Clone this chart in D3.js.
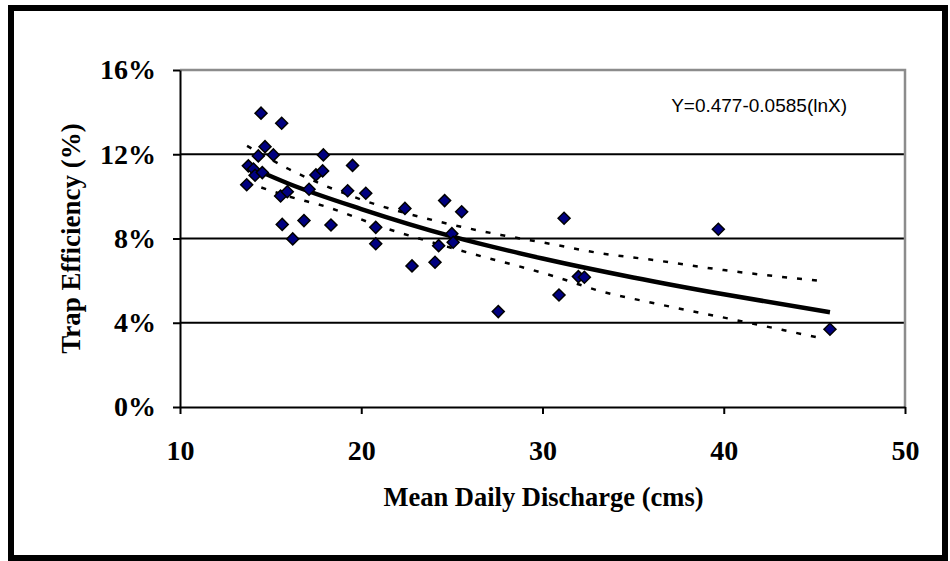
<!DOCTYPE html>
<html>
<head>
<meta charset="utf-8">
<script src="https://cdn.jsdelivr.net/npm/d3@7"></script>
<style>
  body { margin: 0; background: #fff; }
  .tick text { font-family: "Liberation Serif", "Times New Roman", serif; font-weight: bold; }
</style>
</head>
<body>
<div id="chart"></div>
<script>
var svgWidth = 950;
var svgHeight = 561;

// observations: mean daily discharge (cms) and trap efficiency (%)
var discharge = [13.68, 13.77, 14.05, 14.14, 14.32, 14.47, 14.54, 14.69, 15.15, 15.55,
  15.61, 15.64, 15.92, 16.22, 16.84, 17.12, 17.5, 17.87, 17.91, 18.33,
  19.25, 19.52, 20.25, 20.8, 20.8, 22.41, 22.8, 24.07, 24.27, 24.6,
  25.0, 25.07, 25.54, 27.56, 30.91, 31.19, 31.98, 32.31, 39.7, 45.86];
var efficiency = [10.55, 11.45, 11.3, 11.0, 11.92, 13.95, 11.13, 12.36, 11.97, 10.02,
  13.47, 8.67, 10.22, 7.98, 8.85, 10.34, 11.02, 11.21, 11.97, 8.64,
  10.27, 11.47, 10.15, 8.53, 7.75, 9.43, 6.7, 6.87, 7.66, 9.8,
  8.23, 7.82, 9.27, 4.53, 5.32, 8.96, 6.19, 6.16, 8.44, 3.69];

// fitted curve and its bands
var fitX = [13.7, 16, 20, 25, 30, 35, 40, 45.86];
var fitY = [11.45, 10.6, 9.4, 8.1, 7.05, 6.15, 5.35, 4.5];
var upperX = [13.7, 16, 20, 24.3, 27.7, 30.1, 33.2, 36.1, 40, 45.4];
var upperY = [12.4, 11.3, 9.85, 8.8, 8.17, 7.8, 7.3, 6.98, 6.5, 5.98];
var lowerX = [13.7, 16, 18.1, 21, 25.4, 30.7, 33.2, 36.2, 41.1, 45.4];
var lowerY = [10.65, 10.0, 9.5, 8.59, 7.45, 6.19, 5.5, 4.92, 4.05, 3.26];

var xTicks = [10, 20, 30, 40, 50];
var yTicks = [0, 4, 8, 12, 16];
var gridLines = [4, 8, 12];
var equation = "Y=0.477-0.0585(lnX)";

var margin = { top: 70, right: 45, bottom: 154, left: 180 };
var width = svgWidth - margin.left - margin.right;
var height = svgHeight - margin.top - margin.bottom;

var svg = d3.select("#chart")
  .append("svg")
  .attr("width", svgWidth)
  .attr("height", svgHeight);

// outer frame
svg.append("rect")
  .attr("x", 11).attr("y", 8)
  .attr("width", 934).attr("height", 550)
  .attr("fill", "white")
  .attr("stroke", "black")
  .attr("stroke-width", 6);

var chartGroup = svg.append("g")
  .attr("transform", `translate(${margin.left}, ${margin.top})`);

var xScale = d3.scaleLinear().domain([10, 50]).range([0, width]);
var yScale = d3.scaleLinear().domain([0, 16]).range([height, 0]);

// gridlines
chartGroup.selectAll(".grid")
  .data(gridLines)
  .enter()
  .append("line")
  .attr("x1", 0).attr("x2", width)
  .attr("y1", d => yScale(d)).attr("y2", d => yScale(d))
  .attr("stroke", "black")
  .attr("stroke-width", 2);

// grey top/right border of plot area
chartGroup.append("path")
  .attr("d", `M0,${yScale(16)}H${width}V${height}`)
  .attr("fill", "none")
  .attr("stroke", "#8c8c8c")
  .attr("stroke-width", 2.5);

var bottomAxis = d3.axisBottom(xScale)
  .tickValues(xTicks)
  .tickSizeInner(7).tickSizeOuter(0)
  .tickPadding(26)
  .tickFormat(d3.format("d"));
var leftAxis = d3.axisLeft(yScale)
  .tickValues(yTicks)
  .tickSizeInner(7).tickSizeOuter(0)
  .tickPadding(17)
  .tickFormat(d => d + "%");

var xAxisG = chartGroup.append("g")
  .attr("transform", `translate(0, ${height})`)
  .call(bottomAxis);
var yAxisG = chartGroup.append("g")
  .call(leftAxis);

[xAxisG, yAxisG].forEach(function(g) {
  g.selectAll("path, line").attr("stroke", "black").attr("stroke-width", 2);
  g.selectAll("text").attr("font-size", 28).attr("fill", "black");
});

// trend line and bands
var line = d3.line()
  .x(d => xScale(d[0]))
  .y(d => yScale(d[1]))
  .curve(d3.curveMonotoneX);

chartGroup.append("path")
  .datum(d3.zip(upperX, upperY))
  .attr("d", line)
  .attr("fill", "none")
  .attr("stroke", "black")
  .attr("stroke-width", 2.5)
  .attr("stroke-dasharray", "5,10");

chartGroup.append("path")
  .datum(d3.zip(lowerX, lowerY))
  .attr("d", line)
  .attr("fill", "none")
  .attr("stroke", "black")
  .attr("stroke-width", 2.5)
  .attr("stroke-dasharray", "5,10");

chartGroup.append("path")
  .datum(d3.zip(fitX, fitY))
  .attr("d", line)
  .attr("fill", "none")
  .attr("stroke", "black")
  .attr("stroke-width", 4.5);

//diamonds
var diamond = d3.symbol().type(d3.symbolSquare).size(72);
chartGroup.selectAll(".pt")
  .data(d3.zip(discharge, efficiency))
  .enter()
  .append("path")
  .attr("d", diamond)
  .attr("transform", d => `translate(${xScale(d[0])}, ${yScale(d[1])}) rotate(45)`)
  .attr("fill", "#000080")
  .attr("stroke", "black")
  .attr("stroke-width", 1.5);

// equation, right edge ~58px inside the plot border
chartGroup.append("text")
  .attr("x", width - 58)
  .attr("y", 42)
  .attr("text-anchor", "end")
  .attr("font-family", "Liberation Sans, Arial, sans-serif")
  .attr("font-size", 19)
  .text(equation);

//y axis
chartGroup.append("text")
  .attr("transform", "rotate(-90)")
  .attr("x", 0 - height / 2)
  .attr("y", 0 - margin.left + 80)
  .attr("text-anchor", "middle")
  .attr("font-family", "Liberation Serif, Times New Roman, serif")
  .attr("font-weight", "bold")
  .attr("font-size", 27)
  .text("Trap Efficiency (%)");

//x axis
chartGroup.append("text")
  .attr("x", width / 2 + 1)
  .attr("y", height + 99)
  .attr("text-anchor", "middle")
  .attr("font-family", "Liberation Serif, Times New Roman, serif")
  .attr("font-weight", "bold")
  .attr("font-size", 26.5)
  .text("Mean Daily Discharge (cms)");
</script>
</body>
</html>
